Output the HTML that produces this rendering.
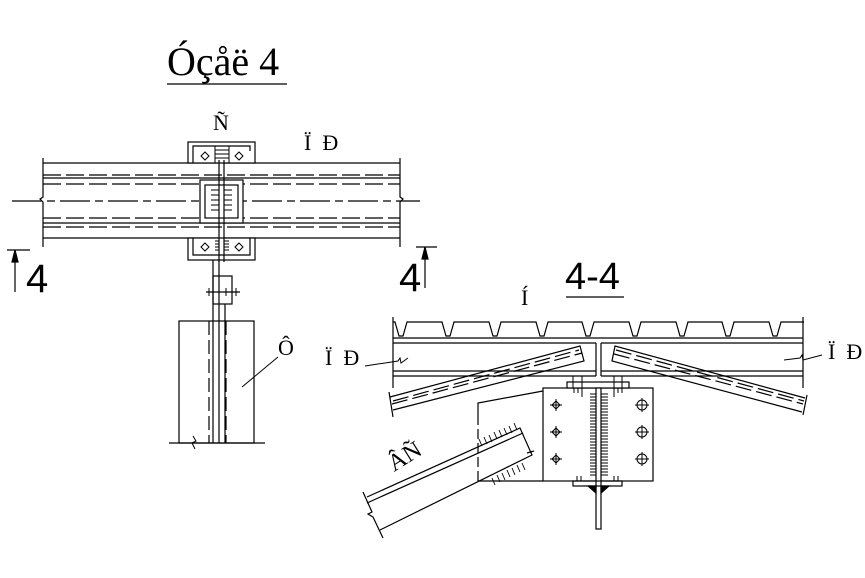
<!DOCTYPE html>
<html><head><meta charset="utf-8"><style>
html,body{margin:0;padding:0;background:#fff}
svg{display:block}
text{font-family:"Liberation Serif",serif;fill:#000}
.s{font-family:"Liberation Sans",sans-serif}
</style></head><body>
<svg width="865" height="578" viewBox="0 0 865 578" xmlns="http://www.w3.org/2000/svg" stroke="#000" stroke-width="1.2" fill="none">
<text x="167" y="75" font-size="40" stroke="none">Óçåë 4</text>
<line x1="167" y1="84" x2="287" y2="84"/>
<text x="213" y="130" font-size="22" stroke="none">Ñ</text>
<text x="304" y="150" font-size="22" stroke="none" xml:space="preserve">Ï  Ð</text>

<line x1="43" y1="163" x2="218" y2="163"/><line x1="224" y1="163" x2="400" y2="163"/>
<line x1="43" y1="238" x2="218" y2="238"/><line x1="224" y1="238" x2="400" y2="238"/>
<line x1="43" y1="178" x2="400" y2="178"/><line x1="43" y1="223" x2="400" y2="223"/>
<g stroke-dasharray="18,5">
<line x1="43" y1="175" x2="400" y2="175"/><line x1="43" y1="184" x2="400" y2="184"/>
<line x1="43" y1="218" x2="400" y2="218"/><line x1="43" y1="227" x2="400" y2="227"/>
</g>
<line x1="12" y1="201" x2="420" y2="201" stroke-dasharray="30,5,8,5"/>
<path d="M43 158 V197 l-3 2 3 3 V247"/>
<path d="M400 158 V197 l3 2 -3 3 V247"/>
<rect x="188" y="142" width="67" height="21" fill="#fff"/>
<path d="M193 163 V146 H250 V151"/>
<rect x="188" y="238" width="67" height="22" fill="#fff"/>
<path d="M193 238 V255 H250 V238"/>
<path d="M201 156 l4 -4 4 4 -4 4z M235 156 l4 -4 4 4 -4 4z M201 247 l4 -4 4 4 -4 4z M235 247 l4 -4 4 4 -4 4z" stroke-width="1"/>
<path d="M215 146 V163 M229 146 V163 M215 150 H229 M215 154 H229 M215 158 H229" stroke-width="1"/>
<path d="M215 241 H219 M215 244 H219 M215 247 H219 M215 250 H219 M224 241 H229 M224 244 H229 M224 247 H229 M224 250 H229" stroke-width="1"/>
<rect x="200" y="180" width="43" height="43" fill="#fff"/>
<rect x="205" y="185" width="33" height="33"/>
<path d="M211 190 H219 M211 195 H219 M211 200 H219 M211 205 H219 M211 210 H219 M224 190 H232 M224 195 H232 M224 200 H232 M224 205 H232 M224 210 H232" stroke-width="1"/>
<line x1="219" y1="160" x2="219" y2="262"/><line x1="224" y1="160" x2="224" y2="262"/>
<line x1="213" y1="260" x2="213" y2="443"/><line x1="219" y1="260" x2="219" y2="443"/><line x1="225" y1="304" x2="225" y2="443"/>
<rect x="213" y="276" width="19" height="28"/>
<line x1="206" y1="292" x2="240" y2="292"/>
<path d="M209 288 v8 M236 288 v8 M226 288 v8" stroke-width="1"/>
<rect x="179" y="321" width="75" height="122"/>
<line x1="209" y1="321" x2="209" y2="443" stroke-dasharray="14,5"/>
<line x1="226" y1="321" x2="226" y2="443" stroke-dasharray="14,5"/>
<line x1="169" y1="443" x2="265" y2="443"/>
<path d="M193 436 l3 5 -4 2 3 6" stroke-width="1"/>
<text x="278" y="355" font-size="22" stroke="none">Ô</text>
<line x1="278" y1="357" x2="242" y2="387" stroke-width="1"/>
<line x1="7" y1="250" x2="30" y2="250"/>
<line x1="15" y1="292" x2="15" y2="252"/>
<path d="M15 250 l-3 12 h6z" fill="#000"/>
<text x="26" y="292" font-size="40" class="s" stroke="none">4</text>
<line x1="416" y1="247" x2="437" y2="247"/>
<line x1="425" y1="288" x2="425" y2="249"/>
<path d="M425 247 l-3 12 h6z" fill="#000"/>
<text x="399" y="291" font-size="40" class="s" stroke="none">4</text>

<text x="565" y="289" font-size="38" class="s" stroke="none">4-4</text>
<line x1="566" y1="297" x2="624" y2="297"/>
<text x="521" y="305" font-size="22" stroke="none">Í</text>
<path d="M393 322 H395 L399 336 H403 L407 322 H442 L446 336 H450 L454 322 H489 L493 336 H497 L501 322 H536 L540 336 H544 L548 322 H582 L586 336 H590 L594 322 H629 L633 336 H637 L641 322 H676 L680 336 H684 L688 322 H722 L726 336 H730 L734 322 H769 L773 336 H777 L781 322 H804"/>
<line x1="393" y1="317" x2="393" y2="388"/><line x1="803" y1="317" x2="803" y2="388"/>
<line x1="393" y1="338" x2="803" y2="338"/>
<path d="M393 343 H596 M601 343 H803 M393 371 H596 M601 371 H803 M393 376 H596 M601 376 H803"/>
<line x1="596" y1="343" x2="596" y2="376"/><line x1="601" y1="343" x2="601" y2="376"/>
<path d="M390 397 L580 346 L584 361 L393 410"/>
<line x1="389" y1="392" x2="393" y2="417"/>
<line x1="393" y1="401" x2="579" y2="350" stroke-dasharray="16,5"/>
<line x1="392" y1="404" x2="582" y2="353" stroke-dasharray="16,5"/>
<path d="M805 398 L615 346 L612 361 L802 412"/>
<line x1="807" y1="395" x2="803" y2="415"/>
<line x1="616" y1="350" x2="804" y2="401" stroke-dasharray="16,5"/>
<line x1="614" y1="354" x2="803" y2="404" stroke-dasharray="16,5"/>
<rect x="543" y="388" width="110" height="93" fill="#fff"/>
<rect x="567" y="382" width="62" height="6" fill="#fff"/>
<path d="M573 376 V388 M582 376 V397 M614 376 V397 M622 376 V388" stroke-width="1"/>
<path d="M574 388 v5 M578 388 v5 M618 388 v5 M622 388 v5" stroke-width="1"/>
<rect x="596" y="388" width="5" height="141" fill="#fff"/>
<g stroke-width="0.9">
<path d="M590 394H596M590 397H596M590 400H596M590 403H596M590 406H596M590 409H596M590 412H596M590 415H596M590 418H596M590 421H596M590 424H596M590 427H596M590 430H596M590 433H596M590 436H596M590 439H596M590 442H596M590 445H596M590 448H596M590 451H596M590 454H596M590 457H596M590 460H596M590 463H596M590 466H596M590 469H596M590 472H596M590 475H596"/>
<path d="M601 394H608M601 397H608M601 400H608M601 403H608M601 406H608M601 409H608M601 412H608M601 415H608M601 418H608M601 421H608M601 424H608M601 427H608M601 430H608M601 433H608M601 436H608M601 439H608M601 442H608M601 445H608M601 448H608M601 451H608M601 454H608M601 457H608M601 460H608M601 463H608M601 466H608M601 469H608M601 472H608M601 475H608"/>
</g>
<g stroke-width="1">
<path d="M552 405 l4 -4 4 4 -4 4z M550 405 h12 M556 399 v12"/>
<path d="M552 432 l4 -4 4 4 -4 4z M550 432 h12 M556 426 v12"/>
<path d="M552 459 l4 -4 4 4 -4 4z M550 459 h12 M556 453 v12"/>
<circle cx="642" cy="405" r="5"/><path d="M635 405 h14 M642 398 v14"/>
<circle cx="642" cy="432" r="5"/><path d="M635 432 h14 M642 425 v14"/>
<circle cx="642" cy="459" r="5"/><path d="M635 459 h14 M642 452 v14"/>
</g>
<rect x="573" y="481" width="49" height="5"/>
<path d="M577 476 v5 M581 476 v5 M614 476 v5 M618 476 v5" stroke-width="1"/>
<path d="M588 486 H596 V493z M601 486 H609 L601 493z" fill="#000"/>
<path d="M543 391 L478 403 V415"/>
<line x1="478" y1="415" x2="478" y2="481" stroke-dasharray="10,4"/>
<line x1="478" y1="481" x2="543" y2="481"/>
<path d="M367 497 L520 428 L532 455 L380 530"/>
<line x1="367" y1="503" x2="523" y2="433"/>
<path d="M363 492 L372 512 l-4 2 5 3 L383 538"/>
<line x1="527" y1="453" x2="534" y2="451"/>
<g stroke-width="0.9">
<path d="M482 446 l-3 -7 M487 444 l-3 -7 M492 442 l-3 -7 M497 439 l-3 -7 M502 437 l-3 -7 M507 435 l-3 -7 M512 433 l-3 -7 M517 430 l-3 -7"/>
<path d="M492 478 l3 7 M497 475 l3 7 M502 473 l3 7 M507 470 l3 7 M512 468 l3 7 M517 465 l3 7 M522 463 l3 7"/>
</g>
<text x="0" y="0" font-size="24" stroke="none" transform="translate(394 472) rotate(-32)">ÂÑ</text>
<text x="325" y="365" font-size="22" stroke="none" xml:space="preserve">Ï  Ð</text>
<path d="M365 366 L398 361 l2 -3 l1 5 L408 358" stroke-width="1"/>
<text x="828" y="359" font-size="22" stroke="none" xml:space="preserve">Ï  Ð</text>
<path d="M784 360 L800 358 l2 -3 l1 5 L822 355" stroke-width="1"/>
</svg>
</body></html>
